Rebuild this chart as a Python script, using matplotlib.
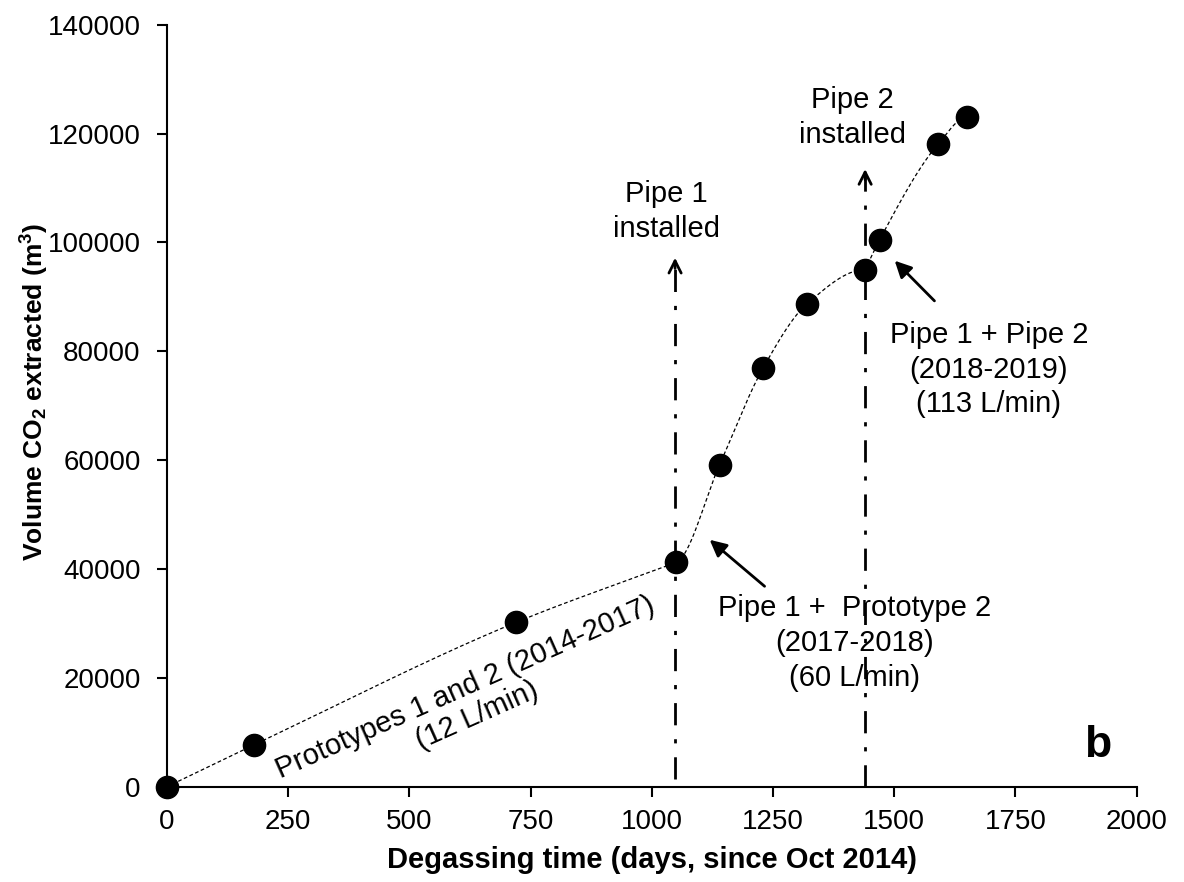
import numpy as np
import matplotlib
matplotlib.use("Agg")
import matplotlib.pyplot as plt

plt.rcParams['font.family'] = ['Liberation Sans', 'DejaVu Sans']
plt.rcParams['mathtext.fontset'] = 'custom'
plt.rcParams['mathtext.rm'] = 'Liberation Sans'
plt.rcParams['mathtext.bf'] = 'Liberation Sans:bold'
plt.rcParams['mathtext.it'] = 'Liberation Sans:italic'

# Data
days = [0, 180, 720, 1050, 1140, 1230, 1320, 1440, 1470, 1590, 1650]
volume = [0, 7700, 30200, 41200, 59200, 77000, 88700, 95000, 100500, 118000, 123000]
pipe1_day = 1048
pipe2_day = 1440
xticks = [0, 250, 500, 750, 1000, 1250, 1500, 1750, 2000]
yticks = [0, 20000, 40000, 60000, 80000, 100000, 120000, 140000]


def hermite(x, y, xn, m0=None, m1=None):
    x = np.asarray(x, float); y = np.asarray(y, float)
    h = np.diff(x); d = np.diff(y) / h
    n = len(x); m = np.zeros(n)
    for k in range(1, n - 1):
        if d[k - 1] * d[k] > 0:
            w1 = 2 * h[k] + h[k - 1]; w2 = h[k] + 2 * h[k - 1]
            m[k] = (w1 + w2) / (w1 / d[k - 1] + w2 / d[k])
    m[0] = d[0] if m0 is None else m0
    m[-1] = d[-1] if m1 is None else m1
    out = np.empty_like(xn)
    idx = np.clip(np.searchsorted(x, xn) - 1, 0, n - 2)
    for i, xv in enumerate(xn):
        k = idx[i]; t = (xv - x[k]) / h[k]
        h00 = 2 * t**3 - 3 * t**2 + 1; h10 = t**3 - 2 * t**2 + t
        h01 = -2 * t**3 + 3 * t**2; h11 = t**3 - t**2
        out[i] = h00 * y[k] + h10 * h[k] * m[k] + h01 * y[k + 1] + h11 * h[k] * m[k + 1]
    return out


fig = plt.figure(figsize=(11.84, 8.82), dpi=100)
ax = fig.add_axes([0.141, 0.108, 0.819, 0.864])

# smoothed trend line, drawn piecewise between the installation periods
segments = [(0, 4, None, None), (3, 8, 33.0, 0.0), (7, 11, None, 0.0)]
for a, b, m0, m1 in segments:
    xs = np.linspace(days[a], days[b - 1], 300)
    ax.plot(xs, hermite(days[a:b], volume[a:b], xs, m0, m1),
            color='black', lw=0.9, ls=(0, (3, 2)), zorder=2)
ax.plot(days, volume, 'o', color='black', ms=16, zorder=3, clip_on=False)

# vertical installation lines with arrows
for xd, y0, ytop in [(pipe1_day, 1500, 97700), (pipe2_day, 0, 114000)]:
    ax.plot([xd, xd], [y0, ytop - 1500], color='black', lw=2, ls=(0, (8, 5, 1.5, 5)), zorder=1)
    ax.annotate('', xy=(xd, ytop), xytext=(xd, ytop - 3000),
                arrowprops=dict(arrowstyle='->', lw=2, color='black', mutation_scale=22))

fs = 21
ax.text(1030, 105700, 'Pipe 1\ninstalled', ha='center', va='center', fontsize=fs, linespacing=1.3)
ax.text(1414, 123000, 'Pipe 2\ninstalled', ha='center', va='center', fontsize=fs, linespacing=1.3)

ax.annotate('', xy=(1115, 45700), xytext=(1237, 36500),
            arrowprops=dict(arrowstyle='-|>', lw=2, color='black', mutation_scale=25))
ax.text(1418, 26400, 'Pipe 1 +  Prototype 2\n(2017-2018)\n(60 L/min)', ha='center', va='center',
        fontsize=fs, linespacing=1.3)

ax.annotate('', xy=(1497, 97000), xytext=(1587, 88900),
            arrowprops=dict(arrowstyle='-|>', lw=2, color='black', mutation_scale=25))
ax.text(1695, 76600, 'Pipe 1 + Pipe 2\n(2018-2019)\n(113 L/min)', ha='center', va='center',
        fontsize=fs, linespacing=1.3)

ax.text(627, 15700, 'Prototypes 1 and 2 (2014-2017)\n(12 L/min)', ha='center', va='center',
        fontsize=fs, rotation=24, rotation_mode='anchor', linespacing=1.1)

ax.text(1920, 7500, 'b', ha='center', va='center', fontsize=32, fontweight='bold')

ax.set_xlim(0, 2000)
ax.set_ylim(0, 140000)
ax.set_xticks(xticks)
ax.set_yticks(yticks)
ax.set_xticklabels([str(v) for v in xticks])
ax.set_yticklabels([str(v) for v in yticks])
ax.tick_params(direction='out', length=7, width=1.5, labelsize=20, colors='black')
ax.tick_params(axis='x', pad=9)
ax.tick_params(axis='y', pad=12)
for s in ['top', 'right']:
    ax.spines[s].set_visible(False)
for s in ['left', 'bottom']:
    ax.spines[s].set_linewidth(1.5)

ax.set_xlabel('Degassing time (days, since Oct 2014)', fontsize=21, fontweight='bold', labelpad=8)
ax.set_ylabel(r'Volume CO$_{\mathbf{2}}$ extracted (m$^{\mathbf{3}}$)', fontsize=19, fontweight='bold')
ax.yaxis.set_label_coords(-0.12, 0.518)

fig.savefig('out.png', dpi=100)
